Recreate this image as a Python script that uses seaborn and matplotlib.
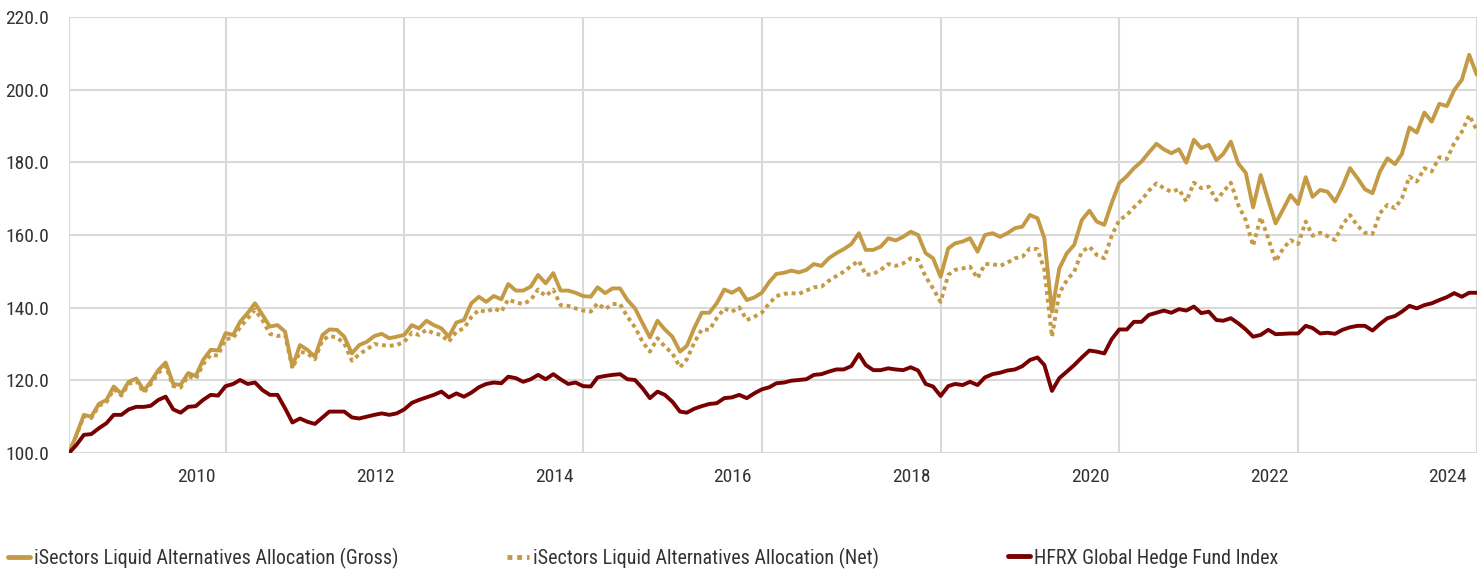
import pandas as pd
import matplotlib
matplotlib.use('Agg')
import matplotlib.pyplot as plt
from matplotlib import font_manager
from matplotlib.lines import Line2D
import seaborn as sns

# Monthly index values (base 100).
months = pd.date_range('2008-03-31', periods=190, freq='ME')

gross = [100, 105, 110.5, 110, 113.5, 114.6, 118.3, 116.3, 119.6, 120.5,
         117.2, 119.6, 122.8, 124.9, 119, 118.7, 122, 121.2, 125.6, 128.4,
         128.2, 133, 132.5, 136.1, 138.5, 141.2, 138, 134.8, 135.2, 133.4,
         123.8, 129.7, 128.4, 126.5, 132.5, 134, 133.9, 132, 127.4, 129.7,
         130.6, 132.2, 132.8, 131.6, 132, 132.5, 135.2, 134.3, 136.4, 135.2,
         134.3, 132, 135.9, 136.6, 141.2, 143, 141.6, 143.2, 142.3, 146.5,
         144.7, 144.7, 145.8, 149, 146.7, 149.5, 144.7, 144.7, 144.1, 143.2,
         143, 145.6, 144, 145.3, 145.3, 142.1, 139.8, 135.7, 131.8, 136.4,
         134, 132, 127.9, 129.5, 134.5, 138.6, 138.6, 141.2, 145, 144.1,
         145.3, 142.1, 142.8, 144.1, 147.1, 149.3, 149.6, 150.2, 149.7, 150.4,
         152, 151.5, 153.6, 155, 156.1, 157.5, 160.5, 155.9, 155.9, 156.8,
         159.1, 158.5, 159.5, 160.9, 160, 155, 153.6, 148.5, 156.3, 157.7,
         158.2, 159.1, 155.4, 160, 160.5, 159.5, 160.5, 161.9, 162.3, 165.5,
         164.6, 159.1, 138.9, 150.8, 155, 157.3, 164.1, 166.7, 163.7, 162.8,
         168.8, 174.3, 176.2, 178.4, 180.2, 182.7, 185.1, 183.6, 182.5, 183.6,
         179.9, 186.2, 183.9, 184.8, 180.6, 182.3, 185.7, 179.7, 177.1, 167.6,
         176.5, 169.6, 163.2, 167.1, 171, 168.5, 175.9, 170.5, 172.4, 171.9,
         169.2, 173.3, 178.4, 175.6, 172.6, 171.5, 177.4, 181.1, 179.5, 182.3,
         189.6, 188.2, 193.7, 191.2, 196.1, 195.5, 199.9, 202.7, 209.6, 204.1]

net = [100, 104.8, 110.2, 109.6, 113, 114, 117.6, 115.8, 119, 119.8,
       116.6, 119, 122, 124, 118.4, 118, 121.2, 120.4, 124.4, 127,
       126.8, 131.4, 131.6, 134.6, 137, 139.4, 136.5, 132.8, 132.2, 132.5,
       123.3, 127.9, 127.4, 125.8, 131.1, 132.2, 131.8, 130.2, 125.4, 127.2,
       128.5, 130, 129.7, 129.5, 129.7, 130.6, 133.1, 132.5, 133.9, 132.9,
       132.5, 130.6, 133.4, 134.3, 137.4, 139.4, 138.8, 139.8, 138.9, 142.3,
       141.4, 141, 142.1, 145, 143.2, 145, 140.7, 140.5, 139.8, 139.2,
       138.9, 141.2, 139.6, 141, 141, 137.5, 134.6, 130.6, 127.9, 131.6,
       129.3, 127.4, 123.6, 125.8, 130.5, 134, 133.9, 137.1, 139.8, 138.9,
       140.1, 136.6, 137.5, 138.6, 141.2, 143.2, 143.8, 144, 143.8, 144.7,
       145.6, 145.8, 147.4, 148.7, 149.9, 151.5, 152.9, 149, 149.3, 150.4,
       152, 151.5, 152.2, 153.6, 153.1, 148.5, 145.3, 141.6, 149, 150.4,
       150.8, 151.3, 148.1, 152, 152, 151.5, 152.4, 153.6, 154, 156.3,
       156.1, 150.4, 132, 144, 147.6, 149.9, 155.4, 156.8, 154.5, 153.6,
       159.8, 164.1, 165.5, 167.6, 169.6, 172.2, 174.2, 172.9, 171.9, 172.6,
       169.2, 174.4, 172.9, 173.3, 169.6, 171.9, 174.4, 168.3, 164.1, 157,
       164.9, 159.1, 152.7, 156.3, 158.6, 157.5, 163.7, 159.8, 160.6, 159.7,
       158.6, 162.8, 165.5, 162.5, 160.6, 160.3, 166, 168.3, 167.4, 170.1,
       176.1, 174.7, 178.4, 177.5, 181.4, 180.9, 185.3, 188.4, 193, 188.9]

hfrx = [100, 102.2, 105, 105.2, 106.8, 108.2, 110.5, 110.5, 112, 112.7,
        112.7, 113, 114.6, 115.5, 112, 111.1, 112.7, 112.9, 114.6, 116,
        115.8, 118.4, 119, 120.1, 119, 119.4, 117.3, 116, 116, 112.3,
        108.4, 109.5, 108.6, 108, 109.8, 111.4, 111.4, 111.4, 109.8, 109.5,
        110, 110.5, 110.9, 110.5, 110.9, 112, 113.8, 114.6, 115.3, 116,
        116.9, 115.3, 116.4, 115.5, 116.6, 118.1, 119, 119.4, 119.2, 121,
        120.6, 119.6, 120.3, 121.5, 120.3, 121.7, 120.3, 119, 119.4, 118.4,
        118.3, 120.8, 121.2, 121.5, 121.7, 120.3, 120.1, 117.8, 115.1, 116.9,
        116, 114.1, 111.4, 111.1, 112.2, 112.9, 113.5, 113.7, 115.1, 115.3,
        116, 115.1, 116.4, 117.5, 118.1, 119.2, 119.4, 119.9, 120.1, 120.3,
        121.5, 121.7, 122.4, 123, 123, 123.9, 127.2, 124.2, 122.8, 122.8,
        123.3, 123, 122.8, 123.6, 122.7, 119, 118.3, 115.7, 118.4, 119,
        118.7, 119.6, 118.7, 120.8, 121.7, 122.1, 122.7, 123, 123.9, 125.6,
        126.3, 124.2, 117.1, 120.6, 122.4, 124.2, 126.3, 128.2, 127.9, 127.4,
        131.3, 134, 134, 136.1, 136.1, 138, 138.6, 139.2, 138.6, 139.6,
        139.2, 140.3, 138.5, 138.9, 136.6, 136.4, 137.1, 135.7, 134, 132,
        132.5, 133.9, 132.7, 132.8, 132.9, 132.9, 135, 134.4, 132.9, 133.1,
        132.8, 133.9, 134.6, 135, 135, 133.7, 135.5, 137.1, 137.7, 138.9,
        140.5, 139.8, 140.7, 141.2, 142.1, 142.9, 144, 143, 144.1, 144.1]

series_names = ['iSectors Liquid Alternatives Allocation (Gross)',
                'iSectors Liquid Alternatives Allocation (Net)',
                'HFRX Global Hedge Fund Index']
year_labels = [2010, 2012, 2014, 2016, 2018, 2020, 2022, 2024]
y_ticks = [100, 120, 140, 160, 180, 200, 220]

GOLD = '#C49A45'
MAROON = '#780000'
GRID = '#d9d9d9'
TEXT = '#333333'

df = pd.DataFrame({'Date': months, 'Gross': gross, 'Net': net, 'HFRX': hfrx})

sns.set_style('white')

# pick a condensed face if one is installed (the original uses a narrow sans)
fonts = font_manager.fontManager.ttflist
names = {f.name for f in fonts}
family, stretch, size = 'Liberation Sans', 'normal', 12.5
for cand in ['Roboto Condensed', 'Liberation Sans Narrow', 'Open Sans Condensed',
             'Noto Sans Condensed']:
    if cand in names:
        family, size = cand, 14
        break
else:
    for base in ['Roboto', 'Noto Sans', 'Open Sans', 'DejaVu Sans']:
        if any(f.name == base and f.stretch in ('condensed', 'semi-condensed', 'extra-condensed')
               and f.weight in (400, 'normal', 'regular') for f in fonts):
            family, stretch, size = base, 'condensed', 14
            break
plt.rcParams['font.family'] = [family, 'DejaVu Sans']
plt.rcParams['font.stretch'] = stretch
leg_size = size * 1.03

fig = plt.figure(figsize=(14.82, 5.71), dpi=100)
ax = fig.add_axes([69 / 1482, 1 - 453 / 571, 1408 / 1482, 436 / 571])

sns.lineplot(data=df, x='Date', y='Net', color=GOLD, lw=2.8,
             linestyle=(0, (1, 1)), ax=ax)
sns.lineplot(data=df, x='Date', y='Gross', color=GOLD, lw=2.8, ax=ax)
sns.lineplot(data=df, x='Date', y='HFRX', color=MAROON, lw=2.8, ax=ax)

# Axis limits and ticks
start = months[0]
end = pd.Timestamp('2024-01-01')
ax.set_xlim(start, end)
ax.set_ylim(100, 220)
ax.set_yticks(y_ticks)
ax.set_yticklabels([f'{v:.1f}' for v in y_ticks])

grid_dates = [start] + [pd.Timestamp(f'{y}-01-01') for y in year_labels]
ax.set_xticks(grid_dates)
ax.set_xticklabels([''] * len(grid_dates))
label_dates = [pd.Timestamp(f'{y}-01-01') - pd.Timedelta(days=120) for y in year_labels]
ax.set_xticks(label_dates, minor=True)
ax.set_xticklabels([str(y) for y in year_labels], minor=True)

ax.set_xlabel('')
ax.set_ylabel('')
for s in ax.spines.values():
    s.set_visible(False)
ax.grid(True, which='major', color=GRID, lw=1.5)
ax.set_axisbelow(True)
ax.tick_params(axis='y', length=11, width=1.5, color=GRID, pad=3.5,
               labelsize=size, labelcolor=TEXT)
ax.tick_params(axis='x', which='major', length=10, width=1.5, color=GRID)
ax.tick_params(axis='x', which='minor', length=0, pad=10.5,
               labelsize=size, labelcolor=TEXT)

# Legend: three entries spread across the bottom
handles = [Line2D([], [], color=GOLD, lw=3.5),
           Line2D([], [], color=GOLD, lw=3.5, linestyle=(0, (1, 1))),
           Line2D([], [], color=MAROON, lw=3.5)]
for h, name, x in zip(handles, series_names, [8, 507, 1008]):
    fig.legend([h], [name], loc='center left', bbox_to_anchor=(x / 1482, 1 - 558 / 571),
               frameon=False, borderpad=0, borderaxespad=0,
               handlelength=22 / (leg_size * 1.389), handletextpad=0.2,
               fontsize=leg_size, labelcolor=TEXT)

plt.savefig('out.png', dpi=100)
